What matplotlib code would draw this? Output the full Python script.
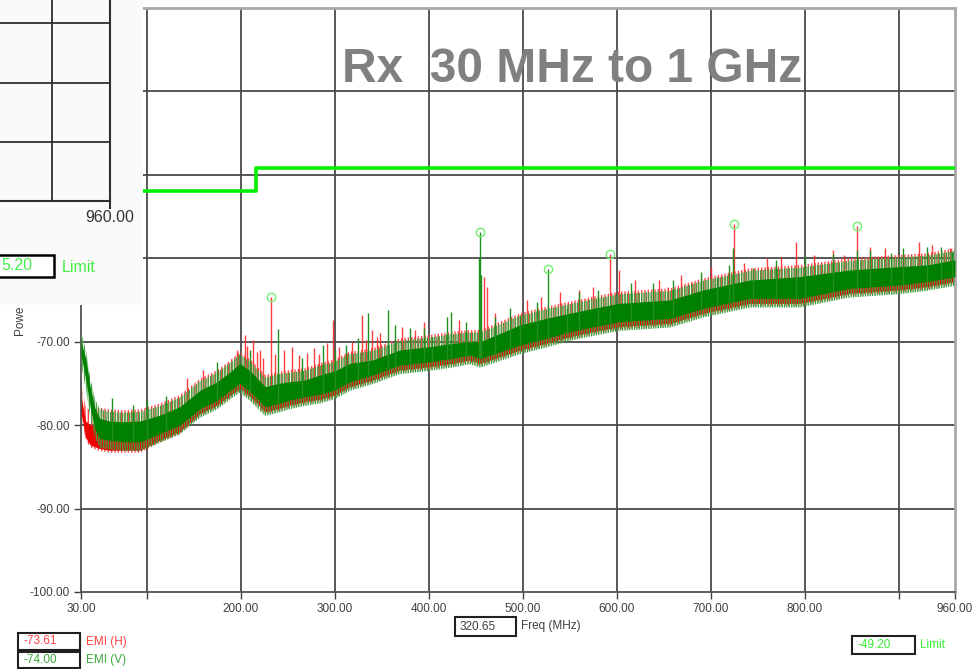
import numpy as np
import matplotlib
matplotlib.use("Agg")
import matplotlib.pyplot as plt
from matplotlib.patches import Rectangle

plt.rcParams['font.family'] = ['Liberation Sans', 'DejaVu Sans']
plt.rcParams['hatch.linewidth'] = 1.0

# ---------------- data ----------------
env_freq = [30, 35, 40, 45, 50, 60, 75, 93, 114, 135, 157, 175, 189, 199, 210, 226,
            240, 252, 268, 284, 300, 316, 340, 369, 401, 425, 444, 455, 476, 497, 525,
            550, 575, 603, 630, 657, 692, 742, 795, 848, 901, 930, 960]
green_hi = [-70.0, -72.0, -75.5, -78.0, -79.2, -79.5, -79.6, -79.5, -78.8, -77.8, -75.8,
            -74.8, -73.6, -72.6, -73.5, -75.4, -75.0, -74.8, -74.6, -74.0, -73.5, -72.6,
            -72.2, -71.0, -70.6, -70.2, -70.0, -70.0, -69.0, -68.0, -67.2, -66.6, -66.0,
            -65.4, -65.2, -65.0, -63.8, -62.6, -62.2, -61.4, -61.0, -60.8, -60.2]
green_lo = [-71.5, -74.5, -78.0, -80.5, -81.6, -81.8, -82.0, -82.0, -81.0, -80.0, -78.0,
            -77.0, -75.8, -75.0, -76.0, -77.8, -77.4, -77.0, -76.6, -76.3, -75.8, -74.8,
            -74.0, -72.8, -72.4, -72.0, -71.6, -72.0, -71.2, -70.4, -69.6, -68.8, -68.2,
            -67.6, -67.4, -67.2, -66.0, -64.8, -64.8, -63.6, -63.2, -62.8, -62.2]
red_hi = [-76.5, -79.5, -80.0, -79.8, -79.6, -79.8, -79.9, -79.8, -79.1, -78.1, -76.1,
          -75.1, -73.9, -72.9, -73.8, -75.7, -75.3, -75.1, -74.9, -74.3, -73.8, -72.9,
          -72.5, -71.3, -70.9, -70.5, -70.3, -70.3, -69.3, -68.3, -67.5, -66.9, -66.3,
          -65.7, -65.5, -65.3, -64.1, -62.9, -62.5, -61.7, -61.3, -61.1, -60.5]
red_lo = [-78.5, -81.5, -82.4, -82.6, -82.8, -83.0, -83.0, -83.0, -81.8, -80.8, -78.6,
          -77.6, -76.4, -75.6, -76.6, -78.4, -78.0, -77.6, -77.2, -76.9, -76.4, -75.4,
          -74.6, -73.4, -73.0, -72.6, -72.2, -72.6, -71.8, -71.0, -70.2, -69.4, -68.8,
          -68.2, -68.0, -67.8, -66.6, -65.4, -65.4, -64.2, -63.8, -63.4, -62.8]

red_spike_f = [143, 160, 196, 204, 213, 220, 232, 255, 270, 298, 313, 329, 340, 348,
               459, 462, 593, 602, 655, 680, 725, 791, 821, 842, 856, 903, 922, 948,
               207, 217, 224, 236, 246, 262, 278, 283, 292, 305, 318, 333, 345, 372,
               385, 395, 432, 470, 505, 520, 540, 560, 575, 620, 645, 668, 700, 735,
               760, 775, 810, 830, 870, 885, 935, 955]
red_spike_top = [-74.4, -73.4, -71.0, -69.2, -69.8, -71.0, -64.6, -70.6, -71.4, -67.4,
                 -71.4, -66.8, -68.6, -69.0, -62.2, -63.4, -59.5, -61.4, -63.4, -63.0,
                 -55.9, -58.0, -61.4, -59.6, -56.1, -60.2, -58.0, -59.4,
                 -70.5, -71.2, -72.0, -71.5, -71.0, -71.6, -70.8, -71.5, -70.2, -70.6,
                 -70.0, -69.8, -69.4, -68.2, -68.6, -67.6, -67.4, -66.5, -65.0, -64.6,
                 -64.0, -63.8, -63.4, -62.6, -62.6, -62.0, -61.0, -60.6, -60.0, -59.8,
                 -59.6, -59.0, -58.6, -58.8, -58.4, -58.8]
green_spike_f = [63, 85, 240, 287, 325, 335, 357, 364, 404, 419, 424, 453, 454.6, 456,
                 486, 497, 527, 547, 593, 639, 707, 724, 745, 791, 856, 892, 957,
                 100, 120, 175, 210, 265, 300, 312, 380, 395, 440, 470, 515, 560, 580,
                 615, 660, 690, 720, 770, 800, 830, 870, 905, 930, 945]
green_spike_top = [-76.7, -77.6, -68.5, -70.4, -69.5, -66.6, -66.2, -68.0, -69.4, -67.0,
                   -66.4, -60.0, -56.9, -62.0, -66.0, -66.8, -61.3, -66.0, -66.0, -63.0,
                   -62.2, -58.8, -61.2, -61.2, -59.0, -59.4, -59.2,
                   -77.0, -76.5, -72.4, -71.0, -72.0, -71.0, -70.4, -68.4, -68.4, -67.6,
                   -67.0, -65.2, -64.0, -63.8, -63.0, -62.6, -61.6, -60.8, -60.2, -59.8,
                   -59.5, -59.0, -58.8, -58.6, -58.6]

limit_freq = [30, 216, 960]
limit_level = [-51.9, -49.2, -49.2]

peak_freq = [232, 454.6, 527, 593, 725, 856]
peak_level = [-64.6, -56.9, -61.3, -59.5, -55.9, -56.1]

x_ticks = [30, 100, 200, 300, 400, 500, 600, 700, 800, 900, 960]
x_tick_labels = ['30.00', '', '200.00', '300.00', '400.00', '500.00', '600.00',
                 '700.00', '800.00', '', '960.00']
y_ticks = [-100, -90, -80, -70, -60, -50, -40, -30]
y_tick_labels = ['-100.00', '-90.00', '-80.00', '-70.00', '', '', '', '']

title = "Rx  30 MHz to 1 GHz"
readout_freq = "320.65"
readout_h = "-73.61"
readout_v = "-74.00"
readout_limit = "-49.20"

# ---------------- figure ----------------
W, H = 976, 669
fig = plt.figure(figsize=(W / 100, H / 100), dpi=100)
fig.patch.set_facecolor('white')

ax = fig.add_axes([81 / W, (H - 592) / H, (955 - 81) / W, (592 - 8) / H])
ax.set_xlim(30, 960)
ax.set_ylim(-100, -30)

grid_c = '#4a4a4a'
for xv in x_ticks[1:-1]:
    ax.axvline(xv, color=grid_c, lw=1.3, zorder=1)
for yv in y_ticks[1:-1]:
    ax.axhline(yv, color=grid_c, lw=1.3, zorder=1)

# red trace (EMI H): fuzzy outer texture + solid core
ax.fill_between(env_freq, [v - 0.3 for v in red_lo], [v + 1.7 for v in red_hi],
                facecolor='none', edgecolor='#ff4545', hatch='|||||', lw=0, zorder=2)
ax.fill_between(env_freq, red_lo, red_hi, color='#ee0000', lw=0, zorder=2)
base_r = np.interp(red_spike_f, env_freq, green_lo)
ax.vlines(red_spike_f, base_r, red_spike_top, color='#ff2a2a', lw=1.0, alpha=0.9, zorder=3)

# green trace (EMI V)
ax.fill_between(env_freq, [v - 1.1 for v in green_lo], [v + 1.1 for v in green_hi],
                facecolor='none', edgecolor='#3f9f3f', hatch='|||||||', lw=0, zorder=4)
ax.fill_between(env_freq, green_lo, green_hi, color='#008000', lw=0, zorder=4)
base_g = np.interp(green_spike_f, env_freq, green_lo)
ax.vlines(green_spike_f, base_g, green_spike_top, color='#1f8f1f', lw=1.0, zorder=5)

# limit
ax.step(limit_freq, limit_level, where='post', color='#00ee00', lw=2.6, zorder=6)

# peak markers
ax.plot(peak_freq, peak_level, 'o', ms=6, mfc='none', mec='#70ee70', mew=1.0, zorder=7)

ax.set_xticks(x_ticks)
ax.set_xticklabels(x_tick_labels)
ax.set_yticks(y_ticks)
ax.set_yticklabels(y_tick_labels)
ax.tick_params(axis='both', direction='out', length=5, width=1, color='#404040',
               labelsize=8.5, labelcolor='#404040', pad=3)
for side in ['left', 'bottom']:
    ax.spines[side].set_color('#505050')
    ax.spines[side].set_linewidth(1.3)
for side in ['top', 'right']:
    ax.spines[side].set_color('#a8a8a8')
    ax.spines[side].set_linewidth(2.0)

# ---------------- overlay (pixel coordinates) ----------------
ov = fig.add_axes([0, 0, 1, 1], zorder=10)
ov.set_xlim(0, W)
ov.set_ylim(H, 0)
ov.axis('off')
ov.patch.set_alpha(0)

ov.text(572.5, 82, title, ha='center', va='baseline', fontsize=34.5,
        fontweight='bold', color='#808080', zorder=1)

# y-axis label, partly hidden by the overlapping window
ov.text(20, 335, "Powe", rotation=90, ha='center', va='bottom',
        fontsize=8.5, color='#404040', zorder=1)

# overlapping window fragment (top-left)
ov.add_patch(Rectangle((0, 0), 143, 305, facecolor='#fafafa', edgecolor='none', zorder=2))
ic = '#303030'
for yy in [23, 83, 142]:
    ov.plot([0, 110], [yy, yy], color=ic, lw=1.3, zorder=3)
ov.plot([0, 110], [201, 201], color=ic, lw=1.5, zorder=3)
ov.plot([52, 52], [0, 201], color=ic, lw=1.3, zorder=3)
ov.plot([110, 110], [0, 208], color=ic, lw=1.5, zorder=3)
ov.text(110, 218, "960.00", ha='center', va='center', fontsize=11.5, color='#333333', zorder=3)
ov.add_patch(Rectangle((-3, 255), 57, 22, facecolor='white', edgecolor='black', lw=1.8, zorder=3))
ov.text(1, 266, "5.20", ha='left', va='center', fontsize=11.5, color='#44ee44', zorder=4)
ov.text(62, 267, "Limit", ha='left', va='center', fontsize=11.5, color='#44ee44', zorder=4)

# bottom readouts
def box(x0, y0, w, h, txt, col):
    ov.add_patch(Rectangle((x0, y0), w, h, facecolor='white', edgecolor='#202020', lw=1.5, zorder=3))
    ov.text(x0 + 5, y0 + h / 2, txt, ha='left', va='center', fontsize=8.5, color=col, zorder=4)

box(455, 617, 61, 19, readout_freq, '#404040')
ov.text(521, 626, "Freq (MHz)", ha='left', va='center', fontsize=8.5, color='#404040')
box(18, 633, 62, 17, readout_h, '#ff4040')
ov.text(86, 642, "EMI (H)", ha='left', va='center', fontsize=8.5, color='#ff4040')
box(18, 652, 62, 16, readout_v, '#3aa83a')
ov.text(86, 660, "EMI (V)", ha='left', va='center', fontsize=8.5, color='#3aa83a')
box(852, 636, 63, 18, readout_limit, '#33ee33')
ov.text(920, 645, "Limit", ha='left', va='center', fontsize=8.5, color='#33ee33')

fig.savefig('out.png', dpi=100, facecolor='white')
